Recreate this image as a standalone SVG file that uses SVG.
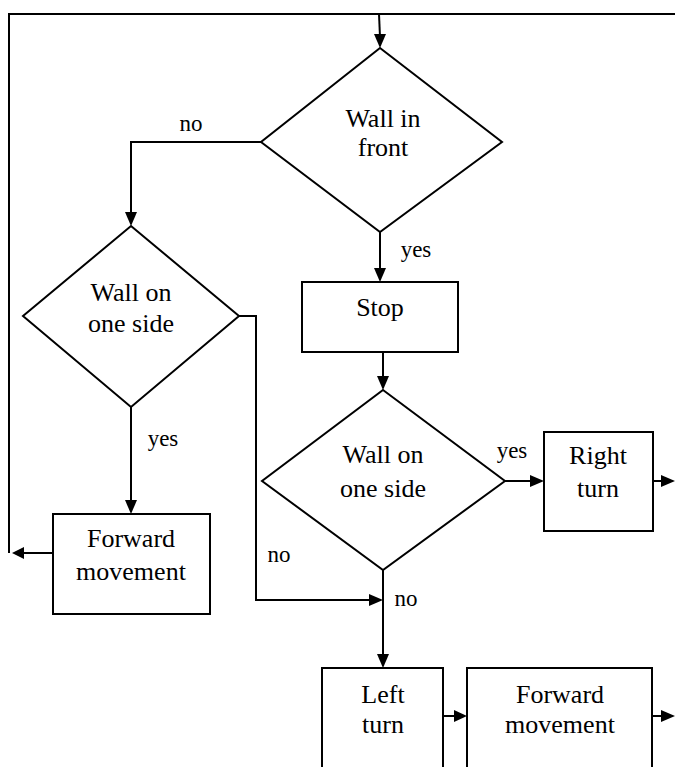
<svg xmlns="http://www.w3.org/2000/svg" width="675" height="767" viewBox="0 0 675 767">
<style>
.s{fill:#fff;stroke:#000;stroke-width:2}
.c{fill:none;stroke:#000;stroke-width:2}
.m{text-anchor:middle;fill:#000}
</style>
<g id="connectors">
<path class="c" d="M675,14 L9,14 L9,553"/>
<path class="c" d="M53,553 L22,553"/>
<path d="M12,553 L24,547 L24,559 Z" fill="#000"/>
<path class="c" d="M379,14 L380,37"/>
<path d="M374,34 L386,34 L380,48 Z" fill="#000"/>
<path class="c" d="M261,142 L131,142 L131,212"/>
<path d="M125,212 L137,212 L131,226 Z" fill="#000"/>
<path class="c" d="M380,232 L380,268"/>
<path d="M374,268 L386,268 L380,282 Z" fill="#000"/>
<path class="c" d="M383,352 L383,376"/>
<path d="M377,376 L389,376 L383,390 Z" fill="#000"/>
<path class="c" d="M239,316 L256,316 L256,600 L369,600"/>
<path d="M369,594 L383,600 L369,606 Z" fill="#000"/>
<path class="c" d="M131,407 L131,500"/>
<path d="M125,500 L137,500 L131,514 Z" fill="#000"/>
<path class="c" d="M505,481 L530,481"/>
<path d="M530,475 L544,481 L530,487 Z" fill="#000"/>
<path class="c" d="M653,481 L661,481"/>
<path d="M661,475 L675,481 L661,487 Z" fill="#000"/>
<path class="c" d="M383,570 L383,654"/>
<path d="M377,654 L389,654 L383,668 Z" fill="#000"/>
<path class="c" d="M443,716 L454,716"/>
<path d="M454,710 L467,716 L454,722 Z" fill="#000"/>
<path class="c" d="M652,716 L661,716"/>
<path d="M661,710 L675,716 L661,722 Z" fill="#000"/>
</g>
<g id="d1">
<polygon class="s" points="380,48 502,142 380,232 261,142"/>
<text class="m" x="383" y="127" style="font-family:'Liberation Serif',serif;font-size:26px">Wall in</text>
<text class="m" x="383" y="156" style="font-family:'Liberation Serif',serif;font-size:26px">front</text>
</g>
<g id="d2">
<polygon class="s" points="131,226 239,316 131,407 23,316"/>
<text class="m" x="131" y="301" style="font-family:'Liberation Serif',serif;font-size:26px">Wall on</text>
<text class="m" x="131" y="332" style="font-family:'Liberation Serif',serif;font-size:26px">one side</text>
</g>
<g id="stop">
<rect class="s" x="302" y="282" width="156" height="70"/>
<text class="m" x="380" y="316" style="font-family:'Liberation Serif',serif;font-size:26px">Stop</text>
</g>
<g id="d3">
<polygon class="s" points="383,390 505,481 383,570 262,481"/>
<text class="m" x="383" y="463" style="font-family:'Liberation Serif',serif;font-size:26px">Wall on</text>
<text class="m" x="383" y="497" style="font-family:'Liberation Serif',serif;font-size:26px">one side</text>
</g>
<g id="right">
<rect class="s" x="544" y="432" width="109" height="99"/>
<text class="m" x="598" y="464" style="font-family:'Liberation Serif',serif;font-size:26px">Right</text>
<text class="m" x="598" y="497" style="font-family:'Liberation Serif',serif;font-size:26px">turn</text>
</g>
<g id="fwd1">
<rect class="s" x="53" y="514" width="157" height="100"/>
<text class="m" x="131" y="547" style="font-family:'Liberation Serif',serif;font-size:26px">Forward</text>
<text class="m" x="131" y="580" style="font-family:'Liberation Serif',serif;font-size:26px">movement</text>
</g>
<g id="left">
<rect class="s" x="322" y="668" width="121" height="110"/>
<text class="m" x="383" y="703" style="font-family:'Liberation Serif',serif;font-size:26px">Left</text>
<text class="m" x="383" y="733" style="font-family:'Liberation Serif',serif;font-size:26px">turn</text>
</g>
<g id="fwd2">
<rect class="s" x="467" y="668" width="185" height="110"/>
<text class="m" x="560" y="703" style="font-family:'Liberation Serif',serif;font-size:26px">Forward</text>
<text class="m" x="560" y="733" style="font-family:'Liberation Serif',serif;font-size:26px">movement</text>
</g>
<g id="labels">
<text class="m" x="191" y="131" style="font-family:'Liberation Serif',serif;font-size:23px">no</text>
<text class="m" x="416" y="257" style="font-family:'Liberation Serif',serif;font-size:23px">yes</text>
<text class="m" x="163" y="446" style="font-family:'Liberation Serif',serif;font-size:23px">yes</text>
<text class="m" x="512" y="458" style="font-family:'Liberation Serif',serif;font-size:23px">yes</text>
<text class="m" x="279" y="562" style="font-family:'Liberation Serif',serif;font-size:23px">no</text>
<text class="m" x="406" y="606" style="font-family:'Liberation Serif',serif;font-size:23px">no</text>
</g>
</svg>
